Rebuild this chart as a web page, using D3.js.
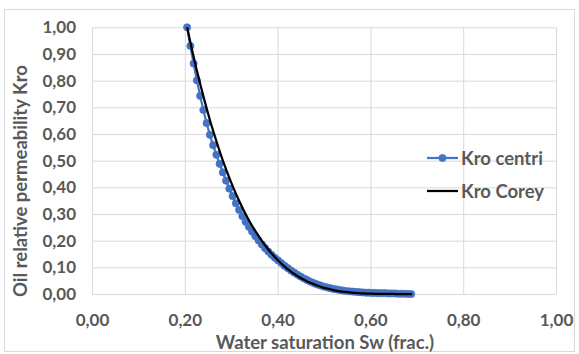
<!DOCTYPE html>
<html>
<head>
<meta charset="utf-8">
<script src="https://cdn.jsdelivr.net/npm/d3@7"></script>
<style>
  body { margin: 0; background: #fff; }
  text { font-family: Lato, "Open Sans", sans-serif; font-weight: bold; fill: #595959; }
</style>
</head>
<body>
<svg id="chart" width="579" height="354"></svg>
<script>
// Axis ticks
const xTicks = [0, 0.2, 0.4, 0.6, 0.8, 1.0];
const yTicks = [0, 0.1, 0.2, 0.3, 0.4, 0.5, 0.6, 0.7, 0.8, 0.9, 1.0];

// Series names
const seriesNames = ["Kro centri", "Kro Corey"];

// Kro centri: water saturation and oil relative permeability
const swCentri = [0.205,0.212,0.219,0.226,0.233,0.240,0.247,0.254,0.261,0.268,
  0.275,0.282,0.289,0.296,0.303,0.310,0.317,0.324,0.331,0.338,
  0.345,0.352,0.359,0.366,0.373,0.380,0.387,0.394,0.401,0.408,
  0.415,0.422,0.429,0.436,0.443,0.450,0.457,0.464,0.471,0.478,
  0.485,0.492,0.499,0.506,0.513,0.520,0.527,0.534,0.541,0.548,
  0.555,0.562,0.569,0.576,0.583,0.590,0.597,0.604,0.611,0.618,
  0.625,0.632,0.639,0.646,0.653,0.660,0.667,0.674,0.681,0.688];
const kroCentri = [1.000,0.930,0.864,0.801,0.743,0.690,0.641,0.597,0.558,0.522,
  0.488,0.456,0.425,0.395,0.367,0.340,0.315,0.292,0.271,0.252,
  0.234,0.217,0.201,0.186,0.172,0.159,0.147,0.136,0.126,0.116,
  0.106,0.097,0.088,0.080,0.072,0.065,0.058,0.052,0.046,0.041,
  0.036,0.032,0.028,0.025,0.022,0.019,0.017,0.015,0.013,0.011,
  0.010,0.009,0.008,0.007,0.006,0.005,0.005,0.004,0.004,0.003,
  0.003,0.003,0.002,0.002,0.002,0.001,0.001,0.001,0.000,0.000];

// Kro Corey model curve
const swCorey = [0.205,0.215,0.225,0.235,0.245,0.255,0.265,0.275,0.285,0.295,
  0.305,0.315,0.325,0.335,0.345,0.355,0.365,0.375,0.385,0.395,
  0.405,0.415,0.425,0.435,0.445,0.455,0.465,0.475,0.485,0.495,
  0.505,0.515,0.525,0.535,0.545,0.555,0.565,0.575,0.585,0.595,
  0.605,0.615,0.625,0.635,0.645,0.655,0.665,0.675,0.685,0.690];
const kroCorey = [1.000,0.920,0.845,0.775,0.709,0.647,0.590,0.536,0.486,0.440,
  0.397,0.357,0.321,0.287,0.256,0.228,0.202,0.178,0.156,0.137,
  0.119,0.103,0.089,0.076,0.065,0.055,0.046,0.039,0.032,0.026,
  0.021,0.017,0.013,0.010,0.008,0.006,0.004,0.003,0.002,0.0015,
  0.001,0.0006,0.0003,0.0002,0.0001,0,0,0,0,0];

const svg = d3.select("#chart");
const plotLeft = 92, plotRight = 556, plotTop = 27.3, plotBottom = 294;
const tickFont = 17, titleFont = 18.5;

const fmt = d3.formatLocale({decimal: ",", thousands: ".", grouping: [3], currency: ["", ""]}).format(".2f");

const x = d3.scaleLinear().domain([0, 1]).range([plotLeft, plotRight]);
const y = d3.scaleLinear().domain([0, 1]).range([plotBottom, plotTop]);

// Chart frame
svg.append("rect")
  .attr("x", 4.5).attr("y", 9.5).attr("width", 570).attr("height", 342)
  .attr("fill", "#fff").attr("stroke", "#d9d9d9").attr("stroke-width", 1);

// Gridlines
const gx = svg.append("g").attr("transform", `translate(0,${plotBottom})`)
  .call(d3.axisBottom(x).tickValues(xTicks).tickSize(-(plotBottom - plotTop)).tickFormat(""));
const gy = svg.append("g").attr("transform", `translate(${plotLeft},0)`)
  .call(d3.axisLeft(y).tickValues(yTicks).tickSize(-(plotRight - plotLeft)).tickFormat(""));
[gx, gy].forEach(g => {
  g.select(".domain").remove();
  g.selectAll(".tick line").attr("stroke", "#d9d9d9").attr("stroke-width", 1);
});

// Tick labels
const ax = svg.append("g").attr("transform", `translate(0,${plotBottom + 17})`)
  .call(d3.axisBottom(x).tickValues(xTicks).tickSize(0).tickFormat(fmt));
const ay = svg.append("g").attr("transform", `translate(${plotLeft - 16},0)`)
  .call(d3.axisLeft(y).tickValues(yTicks).tickSize(0).tickFormat(fmt));
[ax, ay].forEach(g => {
  g.select(".domain").remove();
  g.selectAll(".tick text").attr("font-size", tickFont).attr("fill", "#595959")
    .style("font-family", "Lato, 'Open Sans', sans-serif").style("font-weight", "bold");
});
ay.selectAll(".tick text").attr("x", 0);

// Axis titles
svg.append("text")
  .attr("x", (plotLeft + plotRight) / 2 + 1).attr("y", 349)
  .attr("text-anchor", "middle").attr("font-size", titleFont)
  .text("Water saturation Sw (frac.)");
svg.append("text")
  .attr("transform", `translate(27,181) rotate(-90)`)
  .attr("text-anchor", "middle").attr("font-size", titleFont)
  .text("Oil relative permeability Kro");

// Series
const centri = swCentri.map((s, i) => ({sw: s, kro: kroCentri[i]}));
const corey = swCorey.map((s, i) => ({sw: s, kro: kroCorey[i]}));

const line = d3.line().x(d => x(d.sw)).y(d => y(d.kro));

svg.append("path").datum(centri)
  .attr("d", line).attr("fill", "none")
  .attr("stroke", "#4472C4").attr("stroke-width", 2.25);
svg.append("g").selectAll("circle").data(centri).join("circle")
  .attr("cx", d => x(d.sw)).attr("cy", d => y(d.kro)).attr("r", 3.6)
  .attr("fill", "#4472C4").attr("stroke", "#4472C4").attr("stroke-width", 0.75);

svg.append("path").datum(corey)
  .attr("d", line.curve(d3.curveMonotoneX)).attr("fill", "none")
  .attr("stroke", "#000").attr("stroke-width", 2.25);

// Legend
const legend = svg.append("g");
const legItems = [
  {name: seriesNames[0], color: "#4472C4", marker: true, y: 158},
  {name: seriesNames[1], color: "#000", marker: false, y: 191}
];
legItems.forEach(it => {
  legend.append("line")
    .attr("x1", 427).attr("x2", 458).attr("y1", it.y).attr("y2", it.y)
    .attr("stroke", it.color).attr("stroke-width", 2.25);
  if (it.marker) {
    legend.append("circle").attr("cx", 442.5).attr("cy", it.y).attr("r", 3.6)
      .attr("fill", it.color).attr("stroke", it.color).attr("stroke-width", 0.75);
  }
  legend.append("text")
    .attr("x", 461).attr("y", it.y + 6.5).attr("font-size", titleFont)
    .text(it.name);
});
</script>
</body>
</html>
